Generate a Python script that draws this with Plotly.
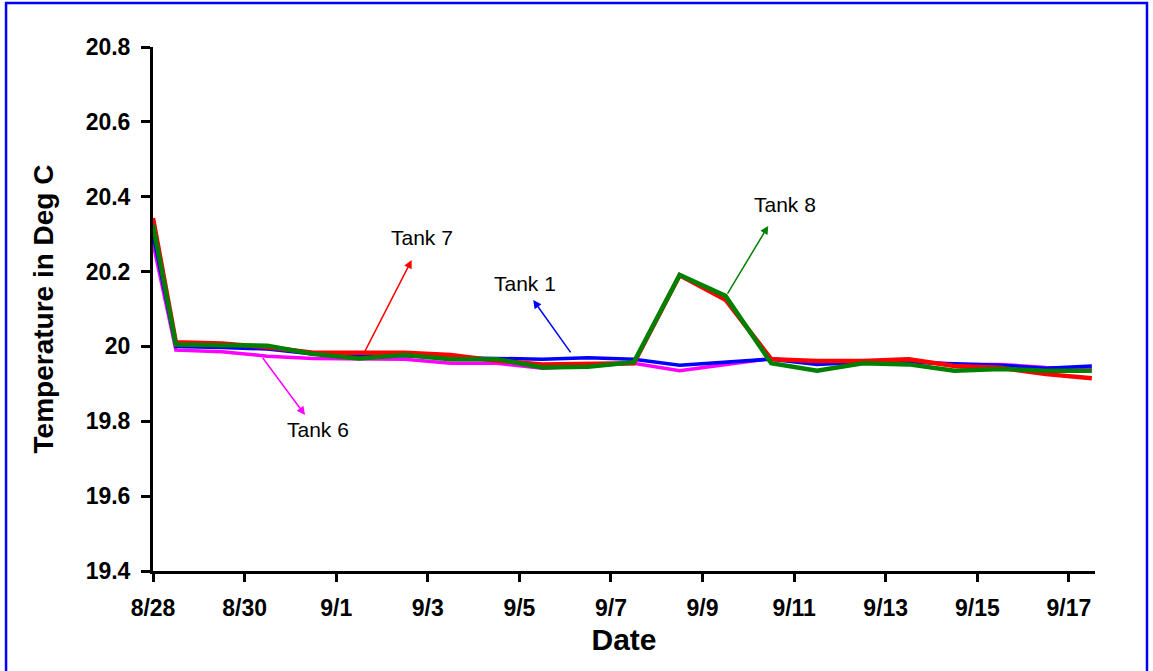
import plotly.graph_objects as go

# ---- data ----
dates = [
    "2007-08-28 00:00", "2007-08-28 12:00", "2007-08-29 12:00", "2007-08-30 12:00",
    "2007-08-31 12:00", "2007-09-01 12:00", "2007-09-02 12:00", "2007-09-03 12:00",
    "2007-09-04 12:00", "2007-09-05 12:00", "2007-09-06 12:00", "2007-09-07 12:00",
    "2007-09-08 12:00", "2007-09-09 12:00", "2007-09-10 12:00", "2007-09-11 12:00",
    "2007-09-12 12:00", "2007-09-13 12:00", "2007-09-14 12:00", "2007-09-15 12:00",
    "2007-09-16 12:00", "2007-09-17 12:00",
]
tank6 = [20.276, 19.990, 19.986, 19.974, 19.968, 19.966, 19.966, 19.955, 19.955, 19.942, 19.948,
         19.955, 19.935, 19.952, 19.968, 19.955, 19.958, 19.962, 19.952, 19.952, 19.944, 19.940]
tank1 = [20.300, 20.000, 19.997, 19.993, 19.980, 19.975, 19.975, 19.970, 19.968, 19.966, 19.970,
         19.966, 19.950, 19.958, 19.966, 19.952, 19.958, 19.958, 19.955, 19.950, 19.942, 19.948]
tank7 = [20.343, 20.011, 20.008, 19.998, 19.983, 19.982, 19.983, 19.977, 19.962, 19.952, 19.955,
         19.955, 20.190, 20.125, 19.966, 19.961, 19.961, 19.966, 19.948, 19.943, 19.926, 19.915]
tank8 = [20.325, 20.005, 20.003, 20.002, 19.980, 19.968, 19.977, 19.966, 19.966, 19.944, 19.946,
         19.958, 20.191, 20.135, 19.955, 19.935, 19.955, 19.952, 19.935, 19.940, 19.935, 19.935]

x_tickvals = ["2007-08-28", "2007-08-30", "2007-09-01", "2007-09-03", "2007-09-05", "2007-09-07",
              "2007-09-09", "2007-09-11", "2007-09-13", "2007-09-15", "2007-09-17"]
x_ticktext = ["8/28", "8/30", "9/1", "9/3", "9/5", "9/7", "9/9", "9/11", "9/13", "9/15", "9/17"]
y_tickvals = [19.4, 19.6, 19.8, 20.0, 20.2, 20.4, 20.6, 20.8]
y_ticktext = ["19.4", "19.6", "19.8", "20", "20.2", "20.4", "20.6", "20.8"]

series = [
    ("Tank 6", tank6, "#FF00FF", 3.5),
    ("Tank 1", tank1, "#0000FF", 3.5),
    ("Tank 7", tank7, "#FF0000", 4.5),
    ("Tank 8", tank8, "#008000", 4.5),
]

fig = go.Figure()
for name, vals, color, w in series:
    fig.add_trace(go.Scatter(x=dates, y=vals, mode="lines", name=name,
                             line=dict(color=color, width=w)))

FONT = "Liberation Sans, Arial, sans-serif"

# label annotations: (text, color, label pos, arrow head, arrow tail)
labels = [
    ("Tank 7", "#FF0000", ("2007-09-02 20:48", 20.292), ("2007-09-02 15:35", 20.231), ("2007-09-01 14:34", 19.982)),
    ("Tank 6", "#FF00FF", ("2007-08-31 14:28", 19.777), ("2007-08-31 07:40", 19.817), ("2007-08-30 08:57", 19.973)),
    ("Tank 1", "#0000FF", ("2007-09-05 02:56", 20.169), ("2007-09-05 07:16", 20.124), ("2007-09-06 03:24", 19.980)),
    ("Tank 8", "#008000", ("2007-09-10 19:10", 20.380), ("2007-09-10 10:25", 20.322), ("2007-09-09 12:37", 20.137)),
]
for text, color, lp, head, tail in labels:
    fig.add_annotation(x=lp[0], y=lp[1], text=text, showarrow=False,
                       font=dict(family=FONT, size=21, color="black"))
    fig.add_annotation(x=head[0], y=head[1], ax=tail[0], ay=tail[1], axref="x", ayref="y",
                       text="", showarrow=True, arrowhead=2, arrowsize=1.1, arrowwidth=1.5,
                       arrowcolor=color)

fig.update_xaxes(
    type="date", range=["2007-08-28 00:00", "2007-09-17 13:40"],
    tickvals=x_tickvals, ticktext=x_ticktext,
    showgrid=False, zeroline=False, showline=True, linecolor="black", linewidth=3,
    ticks="outside", ticklen=8, tickwidth=3, tickcolor="black",
    tickfont=dict(family=FONT, size=23, color="black", weight="bold"),
    ticklabelstandoff=6,
    title=dict(text="<b>Date</b>", font=dict(family=FONT, size=30, color="black"), standoff=10),
)
fig.update_yaxes(
    range=[19.4, 20.8], tickvals=y_tickvals, ticktext=y_ticktext,
    showgrid=False, zeroline=False, showline=True, linecolor="black", linewidth=3,
    ticks="outside", ticklen=9, tickwidth=3, tickcolor="black",
    tickfont=dict(family=FONT, size=23, color="black", weight="bold"),
    ticklabelstandoff=6,
    title=dict(text="<b>Temperature in Deg C</b>", font=dict(family=FONT, size=28, color="black"), standoff=24),
)

fig.add_shape(type="rect", xref="paper", yref="paper",
              x0=-0.156, x1=1.0552, y0=-0.2, y1=1.084,
              line=dict(color="#0000FF", width=2.5), fillcolor="rgba(0,0,0,0)", layer="below")

fig.update_layout(
    width=1153, height=671,
    margin=dict(l=153, r=58, t=47, b=100, autoexpand=False),
    paper_bgcolor="white", plot_bgcolor="white",
    showlegend=False,
    font=dict(family=FONT, color="black"),
)

fig.write_html("out.html", config={"displayModeBar": False},
               post_script="document.body.style.margin='0';document.body.style.overflow='hidden';")
